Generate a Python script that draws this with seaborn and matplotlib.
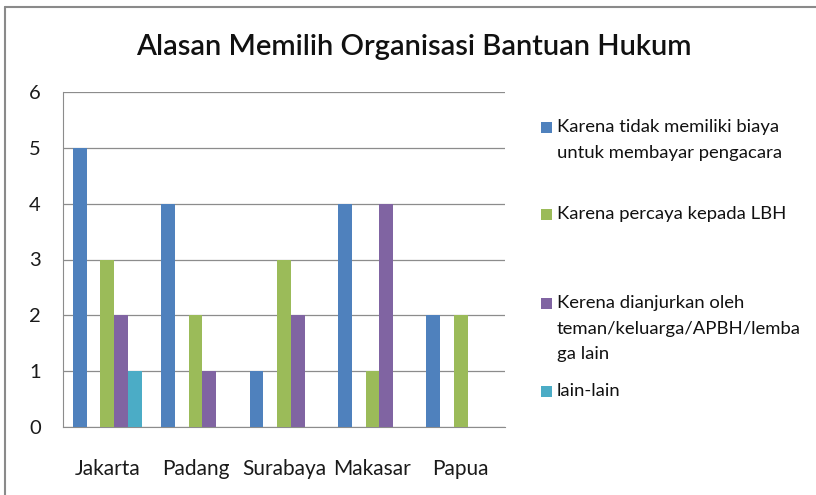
import pandas as pd
import numpy as np
import matplotlib
matplotlib.use("Agg")
import matplotlib.pyplot as plt
import seaborn as sns
from matplotlib.lines import Line2D
from matplotlib.patches import Rectangle

# --- data ---
kota = ['Jakarta', 'Padang', 'Surabaya', 'Makasar', 'Papua']
seri = ['Karena tidak memiliki biaya\nuntuk membayar pengacara',
        'Karena percaya kepada LBH',
        'Kerena dianjurkan oleh\nteman/keluarga/APBH/lemba\nga lain',
        'lain-lain']
biaya = [5, 4, 1, 4, 2]
percaya = [3, 2, 3, 1, 2]
dianjurkan = [2, 1, 2, 4, 0]
lain = [1, 0, 0, 0, 0]
warna = ['#4F81BD', '#9BBB59', '#8064A2', '#4BACC6']

# empty slot between first and second series (as in the original Excel chart)
KOSONG = ' '

rows = []
for nama, vals in zip(seri, [biaya, percaya, dianjurkan, lain]):
    for k, v in zip(kota, vals):
        rows.append({'Kota': k, 'Seri': nama, 'Nilai': v})
df = pd.DataFrame(rows)

sns.set_style("white")
plt.rcParams['font.family'] = ['Lato', 'DejaVu Sans']

fig = plt.figure(figsize=(8.16, 4.95), dpi=100)
ax = fig.add_axes([63 / 816, 1 - 427 / 495, 442 / 816, 335 / 495])

urutan = [seri[0], KOSONG, seri[1], seri[2], seri[3]]
palet = {seri[0]: warna[0], KOSONG: 'white', seri[1]: warna[1],
         seri[2]: warna[2], seri[3]: warna[3]}
sns.barplot(data=df, x='Kota', y='Nilai', hue='Seri', hue_order=urutan,
            palette=palet, width=0.78, ax=ax, legend=False,
            saturation=1, errorbar=None, linewidth=0, zorder=3)

ax.set_ylim(0, 6)
ax.set_yticks(range(0, 7))
ax.set_xlim(-0.5, 4.5)
ax.yaxis.grid(True, color='#8c8c8c', linewidth=0.9, zorder=0)
ax.set_axisbelow(True)
for s in ['top', 'right']:
    ax.spines[s].set_visible(False)
ax.spines['left'].set_color('#8c8c8c')
ax.spines['bottom'].set_color('#8c8c8c')
ax.set_xlabel('')
ax.set_ylabel('')
ax.tick_params(axis='y', labelsize=14.5, pad=16, length=0, colors='#1a1a1a')
ax.tick_params(axis='x', labelsize=15, pad=23, length=0, colors='#1a1a1a')

fig.text(414 / 816, 1 - 47 / 495, 'Alasan Memilih Organisasi Bantuan Hukum',
         ha='center', va='center', fontsize=21, fontweight='semibold',
         color='#111111')

# legend (manual, fixed spacing like the original)
posisi_y = [127, 214, 303, 391]
for nama, c, y in zip(seri, warna, posisi_y):
    fig.patches.append(Rectangle(
        (541 / 816, 1 - (y + 5.5) / 495), 11 / 816, 11 / 495,
        transform=fig.transFigure, facecolor=c, edgecolor='none'))
    fig.text(557 / 816, 1 - (y - 8) / 495, nama, ha='left', va='top',
             fontsize=13.3, color='#111111', linespacing=1.75)

# chart border (left and top)
fig.add_artist(Line2D([5 / 816, 5 / 816], [0, 1 - 7 / 495],
                      transform=fig.transFigure, color='#8a8a8a', lw=1.5))
fig.add_artist(Line2D([5 / 816, 1], [1 - 7 / 495, 1 - 7 / 495],
                      transform=fig.transFigure, color='#8a8a8a', lw=1.5))

fig.savefig('out.png', dpi=100)
